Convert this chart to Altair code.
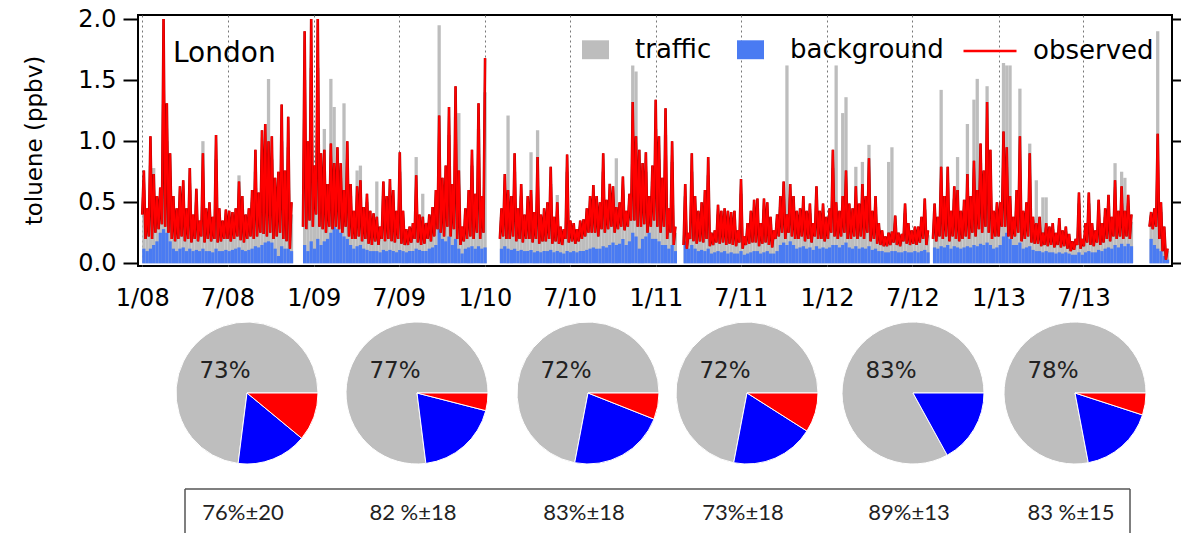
import math
import altair as alt
import pandas as pd

# ---------------- time series (weekly; week k starts 2008-01-01 + 7k days) ----------------
# weekly peak of observed toluene (ppbv)
obs_peak_08 = [0.76, 0.45, 1.04, 0.73, 0.55, 0.62, 2.0, 1.31, 0.9, 0.55,
               0.45, 0.63, 0.68, 0.45, 0.78, 0.4, 0.61, 0.35, 0.9, 0.45,
               0.5, 0.38, 1.05, 0.45, 0.35, 0.44, 0.43, 0.42, 0.45, 0.67,
               0.55, 0.4, 0.45, 0.6, 0.93, 0.58, 1.09, 1.14, 1.0, 1.04,
               0.7, 0.75, 1.3, 0.76, 1.2, 0.5, None, None, None, 1.9,
               1.0, 2.0, 0.8]
obs_peak_09 = [2.0, 0.9, 0.93, 0.65, 0.98, 0.82, 0.95, 0.82, 0.6, 1.0,
               0.65, 0.43, 0.63, 0.68, 0.46, 0.57, 0.43, 0.41, 0.38, 0.3,
               0.67, 0.55, 0.69, 0.6, 0.43, 0.91, 0.43, 0.28, 0.3, 0.33,
               0.72, 0.4, 0.38, 0.33, 0.4, 0.46, 0.6, 1.21, 0.7, 0.8,
               1.28, 0.65, 1.45, 0.76, 0.3, 0.45, 0.6, 0.93, 0.57, 1.31,
               0.55, 1.68]
obs_peak_10 = [None, None, None, None, 0.45, 0.73, 0.6, 0.55, 0.9, 0.45,
               0.65, 0.4, 0.55, 0.6, 0.42, 0.87, 0.4, 0.45, 0.5, 0.79,
               0.38, 0.5, 0.3, 0.28, 0.89, 0.35, 0.33, 0.28, 0.35, 0.36,
               0.45, 0.55, 0.64, 0.55, 0.5, 0.9, 0.52, 0.65, 0.63, 0.46,
               0.5, 0.71, 0.43, 0.57, 1.32, 1.04, 0.93, 0.82, 0.91, 0.55,
               0.8, 1.34]
obs_peak_11 = [1.04, 0.7, 1.27, 0.45, 1.0, 0.3, None, None, 0.65, 0.25,
               0.9, 0.55, 0.43, 0.5, 0.6, 0.87, 0.25, 0.27, 0.48, 0.43,
               0.45, 0.43, 0.42, 0.43, 0.27, 0.69, 0.22, 0.33, 0.43, 0.52,
               0.53, 0.33, 0.53, 0.5, 0.38, 0.27, 0.4, 0.55, 0.67, 0.4,
               0.65, 0.55, 0.43, 0.45, 0.55, 0.43, 0.49, 0.33, 0.63, 0.43,
               0.49, 0.38]
obs_peak_12 = [0.45, 0.93, 0.5, 0.43, 0.55, 0.76, 0.49, 0.45, 0.63, 0.49,
               0.65, 0.55, 0.86, 0.43, 0.55, 0.33, 0.27, 0.22, 0.25, 0.26,
               0.39, 0.25, 0.24, 0.49, 0.33, 0.27, 0.3, 0.3, 0.38, 0.53,
               0.27, None, 0.49, 0.38, 0.79, 0.55, 0.79, 0.43, 0.63, 0.6,
               0.43, 0.52, 0.73, 0.55, 0.84, 0.6, 0.98, 0.76, 1.32, 0.93,
               0.43, 0.5]
obs_peak_13 = [0.5, 1.08, 0.95, 0.55, 0.38, 0.6, 1.04, 0.43, 0.5, 0.9,
               0.38, 0.33, 0.38, 0.25, 0.33, 0.3, 0.33, 0.25, 0.37, 0.27,
               0.3, 0.24, 0.18, 0.2, 0.58, 0.2, 0.33, 0.58, 0.33, 0.27,
               0.52, 0.33, 0.45, 0.56, 0.38, 0.68, 0.43, 0.63, 0.43, 0.56,
               0.4, None, None, None, None, None, 0.42, 0.45, 1.06, 0.5,
               0.3, 0.12]

# weekly low of observed toluene (ppbv)
obs_low_08 = [0.4, 0.2, 0.22, 0.2, 0.25, 0.28, 0.32, 0.3, 0.25, 0.2,
              0.18, 0.2, 0.22, 0.18, 0.2, 0.17, 0.2, 0.18, 0.22, 0.17,
              0.2, 0.18, 0.2, 0.17, 0.18, 0.2, 0.2, 0.18, 0.2, 0.22,
              0.19, 0.17, 0.2, 0.22, 0.2, 0.22, 0.25, 0.24, 0.22, 0.25,
              0.2, 0.22, 0.25, 0.2, 0.18, 0.12, None, None, None, 0.3,
              0.28, 0.35, 0.3]
obs_low_09 = [0.4, 0.3, 0.28, 0.25, 0.3, 0.28, 0.3, 0.28, 0.25, 0.3,
              0.22, 0.2, 0.2, 0.22, 0.18, 0.2, 0.16, 0.15, 0.18, 0.15,
              0.2, 0.18, 0.2, 0.18, 0.17, 0.2, 0.16, 0.15, 0.15, 0.17,
              0.2, 0.17, 0.15, 0.16, 0.2, 0.18, 0.22, 0.28, 0.25, 0.22,
              0.3, 0.22, 0.28, 0.2, 0.15, 0.18, 0.2, 0.22, 0.2, 0.25,
              0.2, 0.25]
obs_low_10 = [None, None, None, None, 0.2, 0.22, 0.2, 0.2, 0.22, 0.18,
              0.2, 0.17, 0.2, 0.2, 0.17, 0.2, 0.16, 0.18, 0.18, 0.2,
              0.16, 0.18, 0.16, 0.15, 0.2, 0.17, 0.18, 0.16, 0.18, 0.2,
              0.22, 0.25, 0.25, 0.25, 0.22, 0.28, 0.25, 0.28, 0.3, 0.25,
              0.28, 0.3, 0.27, 0.3, 0.35, 0.35, 0.3, 0.3, 0.32, 0.25,
              0.3, 0.35]
obs_low_11 = [0.3, 0.25, 0.3, 0.2, 0.25, 0.15, None, None, 0.15, 0.12,
              0.2, 0.18, 0.16, 0.18, 0.17, 0.2, 0.14, 0.15, 0.17, 0.16,
              0.17, 0.15, 0.16, 0.15, 0.14, 0.17, 0.12, 0.15, 0.16, 0.17,
              0.17, 0.14, 0.16, 0.17, 0.15, 0.13, 0.2, 0.22, 0.25, 0.2,
              0.25, 0.22, 0.2, 0.2, 0.22, 0.18, 0.2, 0.17, 0.22, 0.2,
              0.2, 0.18]
obs_low_12 = [0.2, 0.25, 0.22, 0.2, 0.22, 0.25, 0.2, 0.2, 0.22, 0.2,
              0.22, 0.2, 0.25, 0.18, 0.2, 0.16, 0.15, 0.14, 0.14, 0.15,
              0.17, 0.15, 0.14, 0.18, 0.16, 0.15, 0.16, 0.15, 0.17, 0.2,
              0.15, None, 0.2, 0.18, 0.22, 0.2, 0.22, 0.18, 0.22, 0.2,
              0.18, 0.2, 0.22, 0.2, 0.25, 0.22, 0.28, 0.25, 0.3, 0.25,
              0.2, 0.22]
obs_low_13 = [0.22, 0.3, 0.3, 0.22, 0.2, 0.22, 0.25, 0.18, 0.2, 0.22,
              0.17, 0.16, 0.16, 0.14, 0.15, 0.14, 0.15, 0.13, 0.15, 0.13,
              0.14, 0.12, 0.1, 0.11, 0.15, 0.12, 0.14, 0.17, 0.15, 0.14,
              0.17, 0.15, 0.17, 0.2, 0.18, 0.22, 0.2, 0.22, 0.2, 0.22,
              0.2, None, None, None, None, None, 0.3, 0.28, 0.3, 0.2,
              0.1, 0.03]

# modelled traffic (+background) weekly top, ppbv
traffic_08 = [0.6, 0.35, 0.8, 0.78, 0.45, 0.5, 1.3, 1.0, 0.7, 0.4,
              0.35, 0.5, 0.55, 0.35, 0.6, 0.32, 0.5, 0.3, 1.0, 0.35,
              0.4, 0.3, 0.85, 0.35, 0.3, 0.35, 0.35, 0.35, 0.38, 0.72,
              0.45, 0.33, 0.38, 0.5, 0.75, 0.45, 0.85, 0.9, 1.51, 0.85,
              0.55, 0.6, 1.0, 0.6, 0.95, 0.4, None, None, None, 1.5,
              0.8, 1.6, 0.7]
traffic_09 = [1.6, 0.75, 1.1, 0.6, 1.51, 1.28, 0.8, 0.7, 1.31, 0.85,
              0.55, 0.35, 0.76, 0.8, 0.4, 0.5, 0.35, 0.35, 0.67, 0.28,
              0.55, 0.45, 0.55, 0.5, 0.35, 0.75, 0.35, 0.2, 0.25, 0.28,
              0.87, 0.33, 0.57, 0.28, 0.33, 0.4, 0.5, 1.95, 0.6, 0.65,
              1.05, 0.55, 1.2, 1.23, 0.25, 0.4, 0.5, 0.8, 0.5, 1.1,
              0.45, 1.4]
traffic_10 = [None, None, None, None, 0.38, 0.6, 1.21, 0.45, 0.75, 0.38,
              0.55, 0.33, 0.45, 0.91, 0.35, 1.09, 0.33, 0.38, 0.42, 0.65,
              0.32, 0.56, 0.25, 0.23, 0.75, 0.3, 0.28, 0.24, 0.3, 0.3,
              0.38, 0.45, 0.53, 0.45, 0.42, 0.75, 0.43, 0.55, 0.52, 0.86,
              0.42, 0.6, 0.36, 0.48, 1.62, 1.57, 0.78, 0.68, 0.75, 0.45,
              0.67, 1.1]
traffic_11 = [0.85, 0.58, 1.05, 0.38, 0.83, 0.25, None, None, 0.55, 0.2,
              0.75, 0.45, 0.36, 0.42, 0.5, 0.72, 0.2, 0.22, 0.4, 0.36,
              0.38, 0.36, 0.35, 0.36, 0.22, 0.57, 0.18, 0.28, 0.36, 0.43,
              0.44, 0.28, 0.44, 0.42, 0.32, 0.22, 0.33, 0.46, 0.56, 1.62,
              0.54, 0.46, 0.36, 0.38, 0.46, 0.36, 0.41, 0.28, 0.52, 0.36,
              0.41, 0.32]
traffic_12 = [0.38, 0.78, 1.62, 0.36, 1.23, 1.36, 0.41, 0.38, 0.79, 0.41,
              0.83, 0.46, 0.97, 0.36, 0.46, 0.28, 0.23, 0.19, 0.83, 0.95,
              0.33, 0.2, 0.2, 0.41, 0.28, 0.23, 0.25, 0.25, 0.32, 0.44,
              0.23, None, 0.41, 0.32, 1.42, 0.46, 0.66, 0.36, 0.53, 0.87,
              0.36, 0.44, 1.14, 0.46, 1.34, 1.51, 0.82, 0.64, 1.45, 0.78,
              0.36, 0.42]
traffic_13 = [0.42, 1.64, 1.62, 1.62, 0.32, 0.5, 1.43, 0.36, 0.42, 0.98,
              0.32, 0.68, 0.32, 0.54, 0.54, 0.25, 0.28, 0.21, 0.31, 0.23,
              0.25, 0.2, 0.15, 0.17, 0.49, 0.17, 0.28, 0.49, 0.28, 0.23,
              0.44, 0.28, 0.38, 0.47, 0.32, 0.82, 0.36, 0.75, 0.7, 0.47,
              0.34, None, None, None, None, None, 0.36, 0.38, 1.9, 0.42,
              0.25, 0.1]

# modelled background weekly level, ppbv
background_08 = [0.12, 0.1, 0.12, 0.15, 0.18, 0.25, 0.28, 0.25, 0.18, 0.12,
                 0.1, 0.12, 0.13, 0.1, 0.12, 0.1, 0.11, 0.1, 0.12, 0.1,
                 0.1, 0.09, 0.12, 0.1, 0.1, 0.11, 0.1, 0.11, 0.12, 0.13,
                 0.11, 0.1, 0.11, 0.12, 0.14, 0.13, 0.15, 0.17, 0.18, 0.17,
                 0.12, 0.06, 0.14, 0.12, 0.12, 0.1, None, None, None, 0.15,
                 0.1, 0.18, 0.12]
background_09 = [0.2, 0.15, 0.18, 0.2, 0.25, 0.3, 0.28, 0.25, 0.22, 0.2,
                 0.15, 0.12, 0.14, 0.15, 0.12, 0.11, 0.1, 0.1, 0.1, 0.09,
                 0.11, 0.1, 0.11, 0.1, 0.09, 0.11, 0.1, 0.09, 0.1, 0.1,
                 0.12, 0.11, 0.1, 0.1, 0.12, 0.13, 0.15, 0.28, 0.2, 0.18,
                 0.22, 0.15, 0.2, 0.12, 0.08, 0.12, 0.13, 0.14, 0.12, 0.14,
                 0.12, 0.13]
background_10 = [None, None, None, None, 0.12, 0.14, 0.12, 0.11, 0.12, 0.1,
                 0.11, 0.1, 0.1, 0.11, 0.09, 0.1, 0.09, 0.1, 0.1, 0.11,
                 0.09, 0.1, 0.09, 0.08, 0.1, 0.09, 0.1, 0.09, 0.1, 0.1,
                 0.11, 0.12, 0.13, 0.12, 0.12, 0.14, 0.13, 0.15, 0.17, 0.15,
                 0.16, 0.2, 0.15, 0.18, 0.25, 0.22, 0.12, 0.2, 0.22, 0.25,
                 0.2, 0.2]
background_11 = [0.18, 0.15, 0.15, 0.12, 0.15, 0.1, None, None, 0.18, 0.12,
                 0.15, 0.12, 0.1, 0.11, 0.1, 0.12, 0.08, 0.09, 0.1, 0.09,
                 0.1, 0.08, 0.09, 0.08, 0.08, 0.1, 0.07, 0.08, 0.09, 0.1,
                 0.1, 0.08, 0.09, 0.1, 0.08, 0.08, 0.1, 0.15, 0.17, 0.15,
                 0.18, 0.15, 0.12, 0.13, 0.14, 0.12, 0.13, 0.11, 0.14, 0.12,
                 0.13, 0.12]
background_12 = [0.13, 0.15, 0.15, 0.13, 0.15, 0.17, 0.13, 0.12, 0.14, 0.12,
                 0.13, 0.12, 0.14, 0.11, 0.12, 0.1, 0.1, 0.09, 0.09, 0.1,
                 0.1, 0.09, 0.09, 0.1, 0.09, 0.09, 0.1, 0.09, 0.1, 0.11,
                 0.09, None, 0.13, 0.12, 0.14, 0.13, 0.15, 0.12, 0.14, 0.13,
                 0.12, 0.13, 0.14, 0.13, 0.15, 0.14, 0.16, 0.15, 0.17, 0.15,
                 0.12, 0.13]
background_13 = [0.15, 0.22, 0.25, 0.2, 0.15, 0.15, 0.17, 0.12, 0.13, 0.14,
                 0.11, 0.1, 0.1, 0.09, 0.1, 0.09, 0.09, 0.08, 0.09, 0.08,
                 0.09, 0.08, 0.07, 0.07, 0.09, 0.07, 0.09, 0.1, 0.09, 0.09,
                 0.11, 0.1, 0.12, 0.13, 0.12, 0.15, 0.13, 0.16, 0.14, 0.16,
                 0.14, None, None, None, None, None, 0.2, 0.15, 0.12, 0.1,
                 0.06, 0.03]

obs_peak = obs_peak_08 + obs_peak_09 + obs_peak_10 + obs_peak_11 + obs_peak_12 + obs_peak_13
obs_low = obs_low_08 + obs_low_09 + obs_low_10 + obs_low_11 + obs_low_12 + obs_low_13
traffic = traffic_08 + traffic_09 + traffic_10 + traffic_11 + traffic_12 + traffic_13
background = (background_08 + background_09 + background_10 + background_11
              + background_12 + background_13)
assert len(obs_peak) == len(obs_low) == len(traffic) == len(background) == 313, \
    (len(obs_peak), len(obs_low), len(traffic), len(background))

x_tick_dates = ["2008-01-01", "2008-07-01", "2009-01-01", "2009-07-01", "2010-01-01",
                "2010-07-01", "2011-01-01", "2011-07-01", "2012-01-01", "2012-07-01",
                "2013-01-01", "2013-07-01"]
y_ticks = [0.0, 0.5, 1.0, 1.5, 2.0]

# ---------------- pies and box ----------------
pie_traffic = [73, 77, 72, 72, 83, 78]
pie_background = [16, 19, 22, 19, 17, 17]
pie_residual = [11, 4, 6, 9, 0, 5]
box_labels = ["76%±20", "82 %±18", "83%±18", "73%±18", "89%±13", "83 %±15"]


def ms(s):
    return int(pd.Timestamp(s, tz="UTC").timestamp() * 1000)


DAY = 86400000
start = ms("2008-01-01")

line_rows, rect_rows = [], []
seg, gap = 0, True
for k in range(313):
    t0 = start + 7 * k * DAY
    if obs_peak[k] is None:
        gap = True
    else:
        if gap:
            seg += 1
            gap = False
        line_rows.append({"t": t0, "v": obs_low[k], "seg": seg, "o": 2 * k, "s": "observed"})
        line_rows.append({"t": t0 + int(3.5 * DAY), "v": obs_peak[k], "seg": seg, "o": 2 * k + 1,
                          "s": "observed"})
    if traffic[k] is not None:
        rect_rows.append({"t0": t0, "t1": t0 + 7 * DAY, "v": traffic[k], "series": "traffic", "z": 0})
    if background[k] is not None:
        rect_rows.append({"t0": t0, "t1": t0 + 7 * DAY, "v": background[k], "series": "background", "z": 1})

line_df = pd.DataFrame(line_rows)
rect_df = pd.DataFrame(rect_rows)

FONT = "DejaVu Sans"
xscale = alt.Scale(type="utc", domain=[ms("2007-12-23"), ms("2014-01-06")], nice=False)
yscale = alt.Scale(domain=[-0.022, 2.033], nice=False, zero=False)
xaxis = alt.Axis(values=[ms(d) for d in x_tick_dates],
                 labelExpr="utcFormat(datum.value, '%-m/%y')",
                 ticks=False, domain=False, grid=True, gridDash=[2, 3], gridColor="#777777",
                 gridWidth=1, labelFont=FONT, labelFontSize=24, labelColor="black",
                 labelPadding=20, title=None, labelFlush=False, labelOverlap=False)
yaxis = alt.Axis(orient="left", values=y_ticks, format=".1f", tickSize=15, tickWidth=2,
                 tickColor="black", domain=False, grid=False, labelFont=FONT, labelFontSize=24,
                 labelColor="black", labelPadding=7, title="toluene (ppbv)", titleFont=FONT,
                 titleFontSize=23, titleFontWeight="normal", titleColor="black", titleAngle=270,
                 titleX=-104, titleY=125, titleAlign="center", titleBaseline="middle")

fill_legend = alt.Legend(orient="none", legendX=444, legendY=21, direction="horizontal",
                         title=None, symbolType="M-1,-0.7L1,-0.7L1,0.7L-1,0.7Z", symbolSize=729,
                         symbolStrokeWidth=0, symbolOpacity=1, labelFont=FONT, labelFontSize=26,
                         labelColor="black", labelOffset=26, columnPadding=25, padding=0)
stroke_legend = alt.Legend(orient="none", legendX=824, legendY=8, title=None,
                           symbolType="stroke", symbolSize=2809, symbolStrokeWidth=2.5,
                           labelFont=FONT, labelFontSize=26, labelColor="black",
                           labelOffset=15, padding=0)

rects = alt.Chart(rect_df).mark_rect(clip=True).encode(
    x=alt.X("t0:T", scale=xscale, axis=xaxis),
    x2="t1:T",
    y=alt.Y("v:Q", scale=yscale, axis=yaxis),
    y2=alt.Y2(datum=0),
    fill=alt.Fill("series:N", scale=alt.Scale(domain=["traffic", "background"],
                                              range=["#BDBDBD", "#4A7BF2"]),
                  legend=fill_legend),
    order=alt.Order("z:Q"),
)
red_under = alt.Chart(line_df).mark_line(clip=True, strokeWidth=2.6, color="#A00000").encode(
    x=alt.X("t:T", scale=xscale, axis=xaxis),
    y=alt.Y("v:Q", scale=yscale, axis=yaxis),
    detail="seg:N",
    order="o:Q",
)
red_line = alt.Chart(line_df).mark_line(clip=True, strokeWidth=1.8).encode(
    x=alt.X("t:T", scale=xscale, axis=xaxis),
    y=alt.Y("v:Q", scale=yscale, axis=yaxis),
    detail="seg:N",
    order="o:Q",
    stroke=alt.Stroke("s:N", scale=alt.Scale(domain=["observed"], range=["#FF0000"]),
                      legend=stroke_legend),
)
london = alt.Chart(pd.DataFrame({"a": [0]})).mark_text(
    text="London", font=FONT, fontSize=28, align="left", baseline="alphabetic", color="black"
).encode(x=alt.value(35), y=alt.value(47))

ts = alt.layer(rects, red_under, red_line, london)

right_axis = alt.Chart(pd.DataFrame({"v": [0.0]})).mark_point(opacity=0).encode(
    y=alt.Y("v:Q", scale=yscale,
            axis=alt.Axis(orient="right", values=y_ticks, labels=False, tickSize=16, tickWidth=2,
                          tickColor="black", domain=False, grid=False, title=None))
)

# pies: one table per slice kind, angles in radians starting at 3 o'clock, clockwise
slice_rows = {"residual": [], "background": [], "traffic": []}
lab_rows = []
for i in range(6):
    a = math.pi / 2
    for name, val in (("residual", pie_residual[i]), ("background", pie_background[i]),
                      ("traffic", pie_traffic[i])):
        a1 = a + 2 * math.pi * val / 100.0
        if val > 0:
            slice_rows[name].append({"i": i, "a0": a, "a1": a1})
        a = a1
    lab_rows.append({"i": i, "lab": f"{pie_traffic[i]}%", "box": box_labels[i]})
lab_df = pd.DataFrame(lab_rows)

pie_x = alt.Scale(domain=[0, 1, 2, 3, 4, 5], range=[109, 279, 450, 609, 775, 937],
                  nice=False, zero=False)
slice_colors = {"residual": "#FF0000", "background": "#0000FF", "traffic": "#BEBEBE"}
pie_layers = []
for name in ("traffic", "background", "residual"):
    pie_layers.append(
        alt.Chart(pd.DataFrame(slice_rows[name])).mark_arc(
            radius=71, fill=slice_colors[name], stroke="white", strokeWidth=1
        ).encode(
            x=alt.X("i:Q", scale=pie_x, axis=None, stack=None),
            y=alt.value(378),
            theta=alt.Theta("a0:Q", scale=None, stack=None),
            theta2=alt.Theta2("a1:Q"),
        )
    )
pie_text = alt.Chart(lab_df).mark_text(font=FONT, fontSize=23, dx=-22, dy=-22, color="#222222").encode(
    x=alt.X("i:Q", scale=pie_x, axis=None), y=alt.value(378), text="lab:N")
box_text = alt.Chart(lab_df).mark_text(font="Lato", fontSize=22, dx=-4, color="#222222").encode(
    x=alt.X("i:Q", scale=pie_x, axis=None), y=alt.value(498), text="box:N")
bottom = alt.layer(*pie_layers, pie_text, box_text)

one = pd.DataFrame({"a": [0]})
box_top = alt.Chart(one).mark_rule(color="#555555", strokeWidth=1.5).encode(
    x=alt.value(47), x2=alt.value(992), y=alt.value(474))
box_left = alt.Chart(one).mark_rule(color="#555555", strokeWidth=1.5).encode(
    x=alt.value(47), y=alt.value(474), y2=alt.value(530))
box_right = alt.Chart(one).mark_rule(color="#555555", strokeWidth=1.5).encode(
    x=alt.value(992), y=alt.value(474), y2=alt.value(530))

chart = alt.layer(ts, right_axis, bottom, box_top, box_left, box_right).resolve_scale(
    x="independent", y="independent"
).properties(
    width=1034, height=251,
    padding={"left": 130, "top": 7, "right": 9, "bottom": 267},
    autosize=alt.AutoSizeParams(type="none"),
    background="white",
).configure_view(stroke="black", strokeWidth=2)

chart.save("out.html", embed_options={"renderer": "svg", "actions": False})
